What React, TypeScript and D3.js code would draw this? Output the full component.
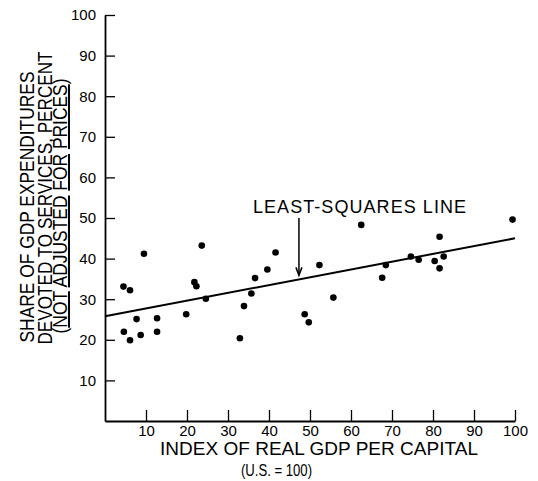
import React, { useEffect, useRef } from "react";
import * as d3 from "d3";

// index of real GDP per capita (U.S. = 100)
const gdpIndex = [
  4.5, 6.1, 9.5, 23.6, 21.8, 22.3, 24.6, 7.7, 12.7, 4.6, 6.1, 8.7, 12.7, 19.8,
  32.9, 33.9, 35.7, 36.6, 39.6, 41.6, 48.7, 49.7, 52.3, 62.5, 55.7, 67.6, 68.5,
  74.6, 76.5, 80.4, 81.6, 82.6, 81.6, 99.4,
];
// share of GDP expenditures devoted to services, percent
const serviceShare = [
  33.1, 32.2, 41.2, 43.2, 34.2, 33.2, 30.1, 25.1, 25.3, 22.0, 19.9, 21.2, 22.0, 26.3,
  20.4, 28.3, 31.4, 35.2, 37.3, 41.5, 26.3, 24.3, 38.4, 48.3, 30.4, 35.3, 38.4,
  40.5, 39.7, 39.4, 45.4, 40.5, 37.6, 49.6,
];
// least-squares line end points
const fitX = [0, 100];
const fitY = [25.8, 45.0];
const arrowAt = 47.3;

const xTicks = [10, 20, 30, 40, 50, 60, 70, 80, 90, 100];
const yTicks = [10, 20, 30, 40, 50, 60, 70, 80, 90, 100];

const width = 538;
const height = 481;
const font = "'Liberation Sans', Arial, sans-serif";

export default function App() {
  const ref = useRef<SVGSVGElement>(null);

  useEffect(() => {
    const svg = d3.select(ref.current);
    svg.selectAll("*").remove();

    const x = d3.scaleLinear().domain([0, 100]).range([105, 515]);
    const y = d3.scaleLinear().domain([0, 100]).range([421, 15]);

    const xAxis = d3.axisBottom(x).tickValues(xTicks).tickSizeInner(-11).tickSizeOuter(0).tickPadding(4).tickFormat(d3.format("d"));
    const yAxis = d3.axisLeft(y).tickValues(yTicks).tickSizeInner(-10).tickSizeOuter(0).tickPadding(9).tickFormat(d3.format("d"));

    const gx = svg.append("g").attr("transform", `translate(0, ${y(0)})`).call(xAxis);
    const gy = svg.append("g").attr("transform", `translate(${x(0)}, 0)`).call(yAxis);

    [gx, gy].forEach(g => {
      g.select(".domain").attr("stroke", "#000").attr("stroke-width", 1.8);
      g.selectAll(".tick line").attr("stroke", "#000").attr("stroke-width", 1.3);
      g.selectAll(".tick text").attr("fill", "#000").attr("font-family", font).attr("font-size", 15);
    });

    // least-squares line
    const line = d3.line<number>().x(d => x(fitX[d])).y(d => y(fitY[d]));
    svg.append("path").attr("d", line([0, 1])).attr("stroke", "#000").attr("stroke-width", 2).attr("fill", "none");

    svg.selectAll("circle.pt").data(gdpIndex).join("circle").attr("class", "pt")
      .attr("cx", d => x(d)).attr("cy", (d, i) => y(serviceShare[i])).attr("r", 3.3).attr("fill", "#000");

    // annotation arrow
    const fitAt = fitY[0] + (fitY[1] - fitY[0]) * (arrowAt - fitX[0]) / (fitX[1] - fitX[0]);
    const ax = x(arrowAt);
    const tip = y(fitAt) - 4;
    svg.append("line").attr("x1", ax).attr("x2", ax).attr("y1", 218).attr("y2", tip).attr("stroke", "#000").attr("stroke-width", 1.5);
    svg.append("path").attr("d", `M${ax - 3},${tip - 8}L${ax},${tip}L${ax + 3},${tip - 8}`)
      .attr("stroke", "#000").attr("stroke-width", 1.5).attr("fill", "none");
    svg.append("text").text("LEAST-SQUARES LINE").attr("x", 253).attr("y", 213)
      .attr("font-family", font).attr("font-size", 18).attr("textLength", 213).attr("lengthAdjust", "spacing");

    // axis titles
    svg.append("text").text("INDEX OF REAL GDP PER CAPITAL").attr("x", 160).attr("y", 455)
      .attr("font-family", font).attr("font-size", 19).attr("textLength", 318).attr("lengthAdjust", "spacing");
    svg.append("text").text("(U.S. = 100)").attr("x", 241).attr("y", 476)
      .attr("font-family", font).attr("font-size", 16).attr("textLength", 71).attr("lengthAdjust", "spacingAndGlyphs");

    const yl = svg.append("g").attr("font-family", font).attr("font-size", 20).attr("text-anchor", "middle");
    yl.append("text").text("SHARE OF GDP EXPENDITURES")
      .attr("transform", "translate(34, 207) rotate(-90)").attr("textLength", 271).attr("lengthAdjust", "spacingAndGlyphs");
    yl.append("text").text("DEVOTED TO SERVICES, PERCENT")
      .attr("transform", "translate(52, 198) rotate(-90)").attr("textLength", 293).attr("lengthAdjust", "spacingAndGlyphs");
    const l3 = yl.append("text").attr("transform", "translate(67, 206) rotate(-90)")
      .attr("textLength", 255).attr("lengthAdjust", "spacingAndGlyphs");
    l3.append("tspan").text("(");
    l3.append("tspan").text("NOT").attr("text-decoration", "underline");
    l3.append("tspan").text(" ");
    l3.append("tspan").text("ADJUSTED").attr("text-decoration", "underline");
    l3.append("tspan").text(" ");
    l3.append("tspan").text("FOR").attr("text-decoration", "underline");
    l3.append("tspan").text(" ");
    l3.append("tspan").text("PRICES").attr("text-decoration", "underline");
    l3.append("tspan").text(")");
  }, []);

  return (
    <svg ref={ref} width={width} height={height}
      style={{ position: "absolute", left: 0, top: 0, background: "#fff" }} />
  );
}
